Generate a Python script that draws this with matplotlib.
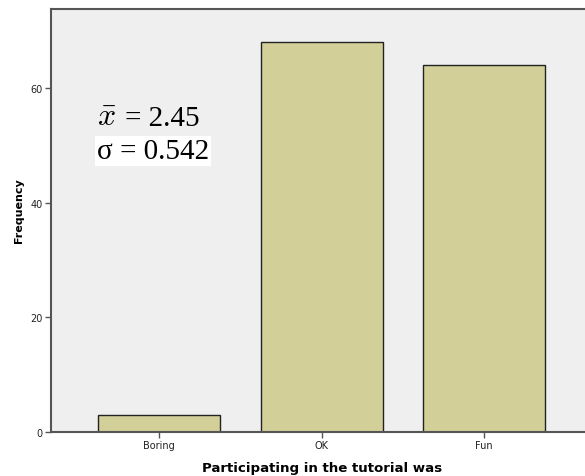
import matplotlib
matplotlib.use('Agg')
import matplotlib.pyplot as plt
import numpy as np

categories = ['Boring', 'OK', 'Fun']
frequency = [3, 68, 64]
yticks = [0, 20, 40, 60]
mean_text = '2.45'
sd_text = '0.542'

plt.rcParams['mathtext.fontset'] = 'cm'

W, H = 585, 477
fig = plt.figure(figsize=(W / 100, H / 100), dpi=100)
ax = fig.add_axes([51 / W, 44 / H, 1 - 51 / W, 423 / H])
ax.set_facecolor('#efefef')

x = np.arange(len(categories))
ax.bar(x, frequency, width=0.75, color='#d3cf98', edgecolor='#222222', linewidth=1.0, zorder=2)

ax.set_xlim(-0.665, 2.62)
ax.set_ylim(0, 73.8)
ax.set_xticks(x)
ax.set_xticklabels(categories, fontsize=7, color='#222222')
ax.set_yticks(yticks)
ax.set_yticklabels([str(t) for t in yticks], fontsize=7, color='#222222')
ax.tick_params(length=4, width=1, color='#555555', pad=2)

for side in ['left', 'bottom', 'top']:
    ax.spines[side].set_color('#555555')
    ax.spines[side].set_linewidth(1.5)
ax.spines['right'].set_visible(False)

ax.set_xlabel('Participating in the tutorial was', fontsize=9.6, fontweight='bold')
ax.xaxis.set_label_coords(0.507, -0.068)
ax.set_ylabel('Frequency', fontsize=8, fontweight='bold')
ax.yaxis.set_label_coords(-0.051, 0.525)

# summary stats annotation
fig.text(97 / W, 1 - 126 / H, r'$\bar{x}$', fontsize=23, va='baseline', ha='left')
fig.text(125 / W, 1 - 126 / H, '= ' + mean_text,
         fontsize=21, family='Liberation Serif', va='baseline', ha='left')
fig.text(97 / W, 1 - 159 / H, '\u03c3 = ' + sd_text,
         fontsize=21, family='Liberation Serif', va='baseline', ha='left',
         bbox=dict(facecolor='white', edgecolor='none', pad=1.5))

fig.savefig('out.png', dpi=100)
